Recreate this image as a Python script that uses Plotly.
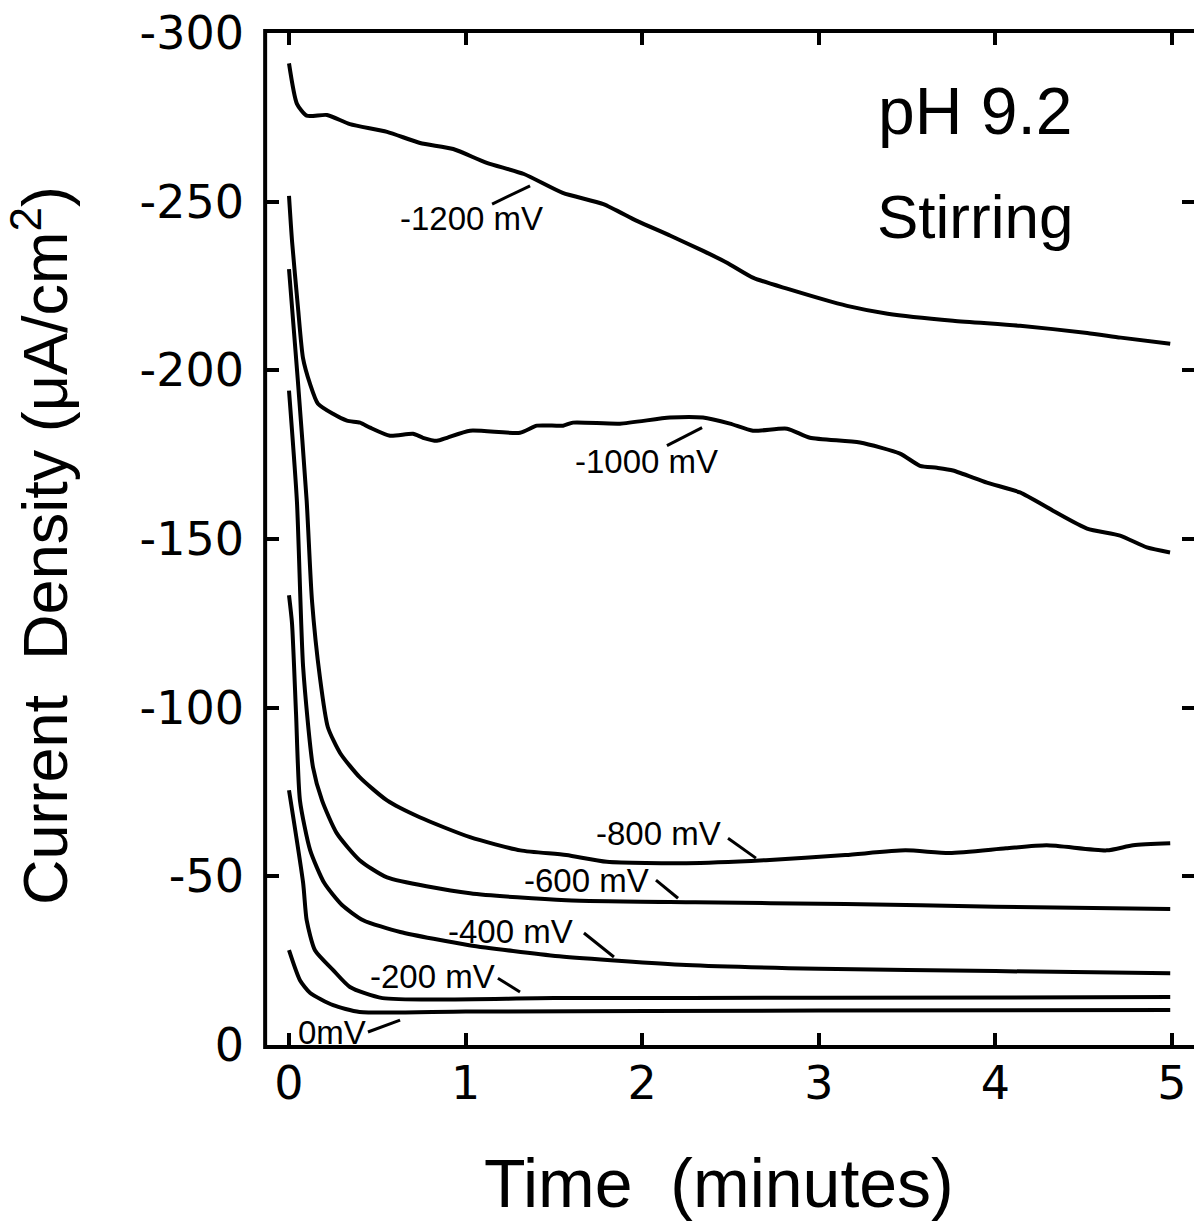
import plotly.graph_objects as go

# Potentiostatic current transients, pH 9.2 with stirring
TIME_M1200 = [0.0, 0.045, 0.10, 0.215, 0.345, 0.555, 0.742, 0.93, 1.12, 1.33, 1.55, 1.78, 1.97,
              2.16, 2.345, 2.48, 2.63, 2.82, 3.16, 3.39, 3.76, 4.14, 4.52, 4.71, 4.99]
CUR_M1200 = [-291.0, -279.0, -275.5, -275.7, -273.0, -270.7, -267.4, -265.6, -261.5, -258.2, -252.6,
             -249.3, -244.3, -239.9, -235.4, -231.9, -227.4, -224.2, -219.1, -216.8, -214.7, -213.2,
             -211.1, -209.7, -207.9]

TIME_M1000 = [0.0, 0.017, 0.051, 0.079, 0.119, 0.164, 0.249, 0.328, 0.402, 0.459, 0.572, 0.702, 0.759,
              0.838, 0.895, 1.025, 1.308, 1.404, 1.552, 1.608, 1.874, 2.157, 2.344, 2.497, 2.627, 2.82,
              2.95, 3.233, 3.46, 3.573, 3.669, 3.76, 3.952, 4.139, 4.326, 4.519, 4.706, 4.858, 4.989]
CUR_M1000 = [-251.7, -238.4, -218.5, -203.7, -196.0, -190.1, -187.1, -185.1, -184.5, -183.0, -180.6,
             -181.2, -180.0, -179.1, -180.0, -182.1, -181.5, -183.6, -183.6, -184.5, -184.2, -186.0,
             -186.0, -184.2, -182.1, -182.7, -180.0, -178.6, -175.3, -171.7, -171.1, -170.3, -166.7,
             -163.8, -158.4, -153.1, -151.0, -147.5, -146.0]

TIME_M800 = [0.0, 0.05, 0.10, 0.13, 0.175, 0.22, 0.29, 0.40, 0.555, 0.74, 1.025, 1.31, 1.57, 1.80,
             2.25, 2.70, 3.15, 3.49, 3.74, 4.06, 4.29, 4.63, 4.78, 4.99]
CUR_M800 = [-230.0, -197.0, -161.4, -131.8, -109.0, -94.2, -86.5, -79.4, -72.5, -67.5, -61.6, -57.7,
            -56.3, -54.3, -53.9, -54.8, -56.3, -57.7, -56.9, -58.3, -59.2, -57.7, -59.2, -59.8]

TIME_M600 = [0.0, 0.045, 0.08, 0.136, 0.187, 0.27, 0.40, 0.555, 1.025, 1.57, 2.3, 3.15, 4.0, 4.99]
CUR_M600 = [-194.0, -161.0, -112.0, -82.3, -72.5, -62.8, -54.8, -49.7, -45.0, -42.9, -42.3, -41.8,
            -41.0, -40.3]

TIME_M400 = [0.0, 0.017, 0.04, 0.062, 0.12, 0.20, 0.30, 0.42, 0.63, 1.02, 1.53, 2.25, 3.0, 4.0, 4.99]
CUR_M400 = [-133.3, -125.0, -98.0, -72.5, -57.7, -48.0, -41.5, -37.0, -33.5, -29.6, -26.3, -23.7,
            -22.6, -21.9, -21.3]

TIME_M200 = [0.0, 0.08, 0.10, 0.147, 0.25, 0.345, 0.53, 1.5, 3.0, 4.99]
CUR_M200 = [-75.5, -48.0, -37.0, -28.1, -22.2, -17.2, -13.9, -13.9, -14.0, -14.2]

TIME_0 = [0.0, 0.062, 0.12, 0.25, 0.40, 1.0, 3.0, 4.99]
CUR_0 = [-28.1, -19.2, -15.4, -11.8, -9.8, -9.9, -10.2, -10.4]

SERIES = [
    (TIME_M1200, CUR_M1200),
    (TIME_M1000, CUR_M1000),
    (TIME_M800, CUR_M800),
    (TIME_M600, CUR_M600),
    (TIME_M400, CUR_M400),
    (TIME_M200, CUR_M200),
    (TIME_0, CUR_0),
]

X_TICKS = [0, 1, 2, 3, 4, 5]
X_TICK_LABELS = ["0", "1", "2", "3", "4", "5"]
Y_TICKS = [0, -50, -100, -150, -200, -250, -300]
Y_TICK_LABELS = ["0", "-50", "-100", "-150", "-200", "-250", "-300"]

# Curve labels: text, text centre (time, current), leader line start and end
CURVE_LABELS = [
    ("-1200 mV", 1.033, -244.9, (1.15, -249.3), (1.365, -254.7)),
    ("-1000 mV", 2.027, -172.9, (2.14, -177.7), (2.339, -183.0)),
    ("-800 mV", 2.095, -62.8, (2.486, -61.3), (2.644, -55.4)),
    ("-600 mV", 1.687, -48.9, (2.078, -48.9), (2.203, -43.5)),
    ("-400 mV", 1.257, -33.5, (1.670, -33.2), (1.840, -26.1)),
    ("-200 mV", 0.8126, -20.4, (1.183, -19.8), (1.308, -15.7)),
    ("0mV", 0.2407, -3.85, (0.447, -3.85), (0.629, -7.4)),
]

fig = go.Figure()
for t, c in SERIES:
    fig.add_trace(go.Scatter(x=t, y=c, mode="lines",
                             line=dict(color="black", width=4, shape="spline", smoothing=0.6),
                             showlegend=False, hoverinfo="skip"))

label_font = dict(family="Liberation Sans, Arial, sans-serif", size=33, color="black")
for text, tx, ty, (x0, y0), (x1, y1) in CURVE_LABELS:
    fig.add_annotation(x=tx, y=ty, text=text, showarrow=False, font=label_font,
                       xanchor="center", yanchor="middle")
    fig.add_shape(type="line", x0=x0, y0=y0, x1=x1, y1=y1, xref="x", yref="y",
                  line=dict(color="black", width=3))

# Left frame edge (the right edge of the frame lies just past the page)
fig.add_shape(type="line", xref="paper", yref="paper", x0=-0.002, x1=-0.002, y0=-0.004, y1=1.004,
              line=dict(color="black", width=4))

cond_family = "Liberation Sans, Arial, sans-serif"
fig.add_annotation(x=3.885, y=-277, text="pH 9.2", showarrow=False,
                   font=dict(family=cond_family, size=66, color="black"),
                   xanchor="center", yanchor="middle")
fig.add_annotation(x=3.885, y=-245.5, text="Stirring", showarrow=False,
                   font=dict(family=cond_family, size=62, color="black"),
                   xanchor="center", yanchor="middle")

# Axis titles
fig.add_annotation(x=0.4876, y=-0.1364, xref="paper", yref="paper", text="Time  (minutes)",
                   showarrow=False, xanchor="center", yanchor="middle",
                   font=dict(family="Liberation Sans, Arial, sans-serif", size=68, color="black"))
fig.add_annotation(x=-0.245, y=0.494, xref="paper", yref="paper",
                   text="Current  Density (μA/cm<sup>2</sup>)", textangle=-90,
                   showarrow=False, xanchor="center", yanchor="middle",
                   font=dict(family="Liberation Sans, Arial, sans-serif", size=63, color="black"))

tick_font = dict(family="DejaVu Sans, sans-serif", size=46, color="black")
fig.update_xaxes(range=[-0.1246, 5.1246], tickvals=X_TICKS, ticktext=X_TICK_LABELS,
                 ticks="inside", ticklen=12, tickwidth=4, tickcolor="black",
                 showline=True, linewidth=4, linecolor="black", mirror="ticks",
                 showgrid=False, zeroline=False, tickfont=tick_font, ticklabelstandoff=-5)
fig.update_yaxes(range=[0, -300], tickvals=Y_TICKS, ticktext=Y_TICK_LABELS,
                 ticks="inside", ticklen=12, tickwidth=4, tickcolor="black",
                 showline=False, mirror="ticks",
                 showgrid=False, zeroline=False, tickfont=tick_font, ticklabelstandoff=22)

fig.update_layout(width=1194, height=1221, margin=dict(l=267, r=0, t=33, b=176),
                  paper_bgcolor="white", plot_bgcolor="white")

fig.write_html("out.html")
